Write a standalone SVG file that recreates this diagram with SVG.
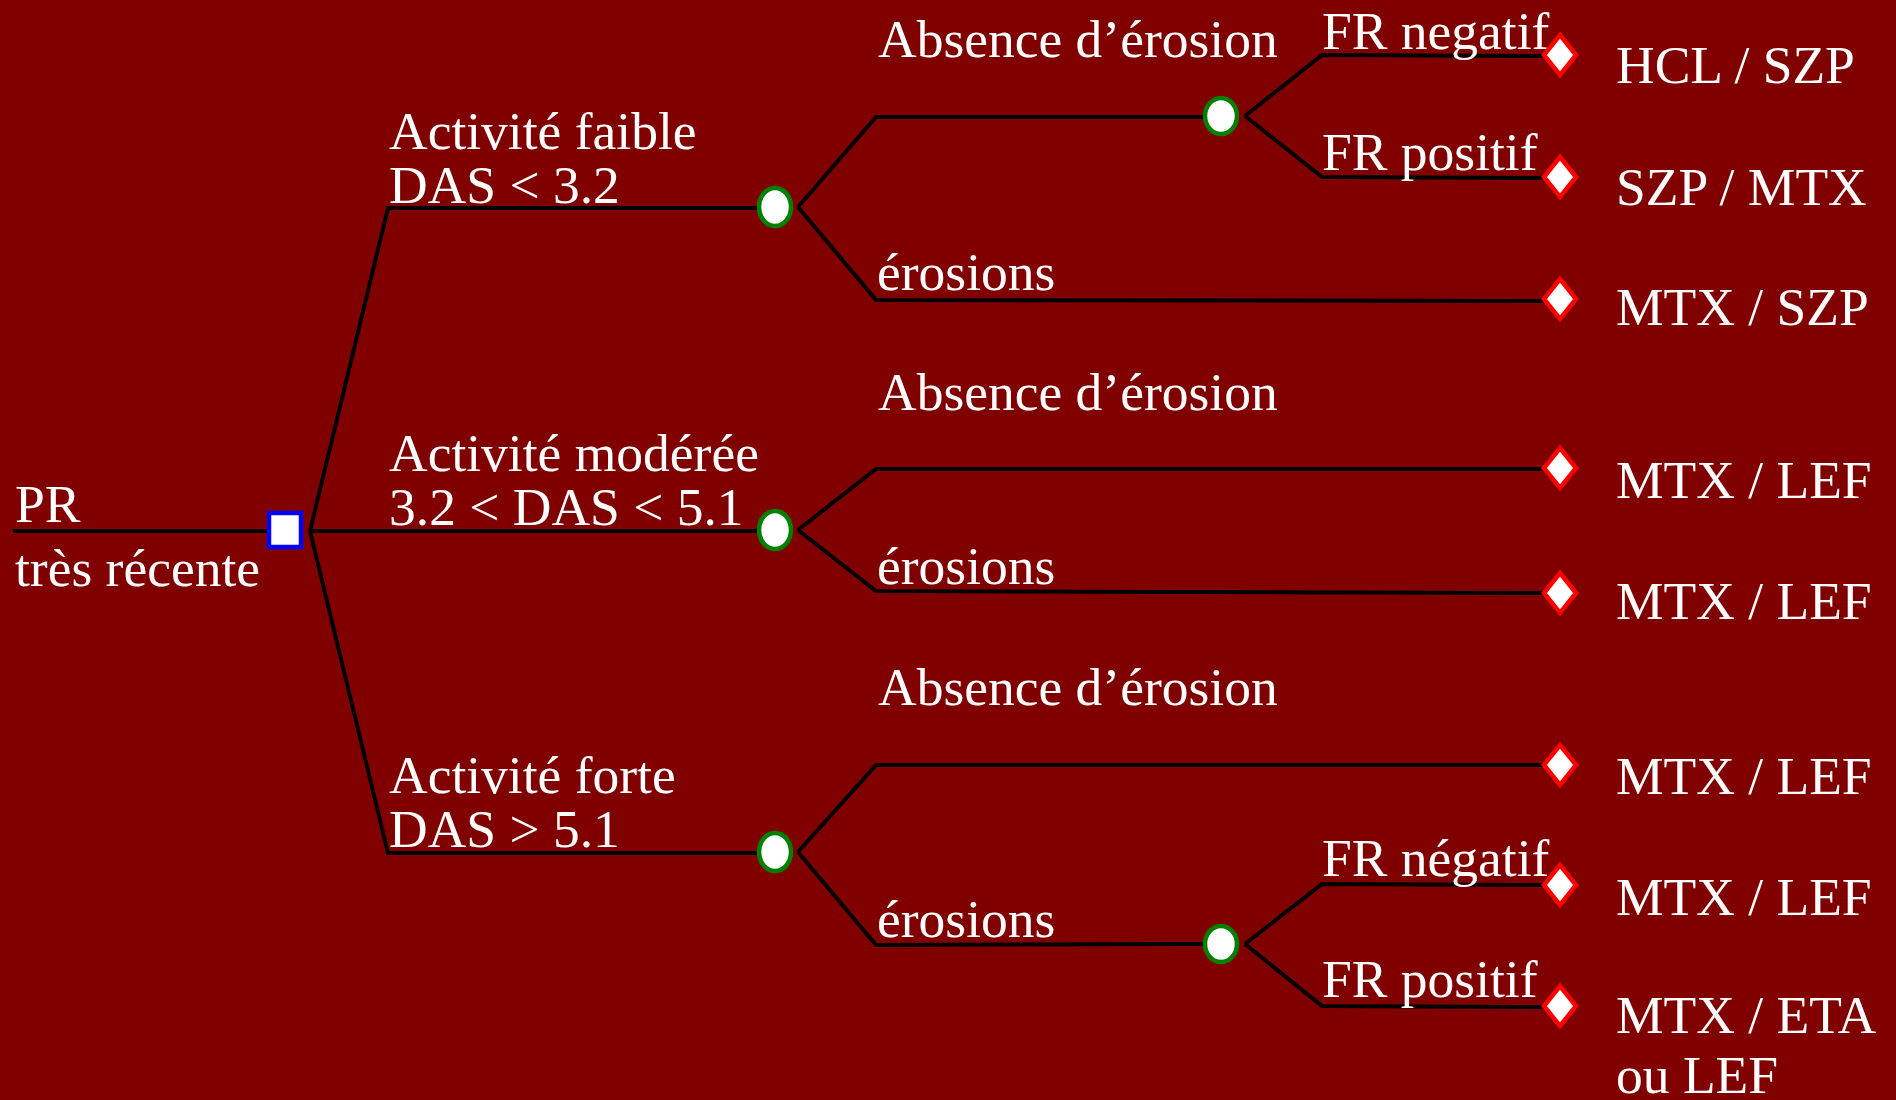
<svg xmlns="http://www.w3.org/2000/svg" width="1896" height="1100" viewBox="0 0 1896 1100">
<style>
text{font-family:"Liberation Serif","Times New Roman",serif;font-size:53.5px;fill:#ffffff}
.ln{fill:none;stroke:#000000;stroke-width:4;stroke-linejoin:miter}
.dec{fill:#ffffff;stroke:#0000ff;stroke-width:4.5}
.chance{fill:#ffffff;stroke:#008000;stroke-width:4.5}
.term{fill:#ffffff;stroke:#ff0000;stroke-width:4.5}
</style>
<defs>
<polygon id="dia" points="0,-20 16,0 0,20 -16,0"/>
</defs>
<rect x="0" y="0" width="1896" height="1100" fill="#800000"/>
<g id="connectors">
<path class="ln" d="M13,531 H269"/>
<path class="ln" d="M310,531 L388,208 H757"/>
<path class="ln" d="M310,531 H757"/>
<path class="ln" d="M310,531 L388,853 H757"/>
<path class="ln" d="M798,207 L876,117 H1203"/>
<path class="ln" d="M798,207 L876,300 L1543,301"/>
<path class="ln" d="M1245,116 L1322,55 L1543,56"/>
<path class="ln" d="M1245,116 L1322,177 L1543,178"/>
<path class="ln" d="M798,530 L876,469 H1543"/>
<path class="ln" d="M798,530 L876,591 L1543,593"/>
<path class="ln" d="M798,852 L876,765 H1543"/>
<path class="ln" d="M798,852 L876,945 L1203,944"/>
<path class="ln" d="M1245,944 L1322,884 L1543,885"/>
<path class="ln" d="M1245,944 L1322,1006 L1543,1007"/>
</g>
<g id="edge-labels">
<text x="15" y="522">PR</text>
<text x="15" y="586">très récente</text>
<text x="389" y="149">Activité faible</text>
<text x="389" y="203">DAS &lt; 3.2</text>
<text x="389" y="471">Activité modérée</text>
<text x="389" y="525">3.2 &lt; DAS &lt; 5.1</text>
<text x="389" y="793">Activité forte</text>
<text x="389" y="847">DAS &gt; 5.1</text>
<text x="878" y="57">Absence d’érosion</text>
<text x="877" y="290">érosions</text>
<text x="878" y="410">Absence d’érosion</text>
<text x="877" y="584">érosions</text>
<text x="878" y="705">Absence d’érosion</text>
<text x="877" y="937">érosions</text>
<text x="1322" y="49">FR negatif</text>
<text x="1322" y="170">FR positif</text>
<text x="1322" y="876">FR négatif</text>
<text x="1322" y="997">FR positif</text>
</g>
<g id="root"><rect class="dec" x="269" y="513" width="32" height="34"/></g>
<g id="c1"><ellipse class="chance" cx="775" cy="207" rx="16" ry="19"/></g>
<g id="c2"><ellipse class="chance" cx="775" cy="530" rx="16" ry="19"/></g>
<g id="c3"><ellipse class="chance" cx="775" cy="852" rx="16" ry="19"/></g>
<g id="c4"><ellipse class="chance" cx="1221" cy="116" rx="16" ry="18"/></g>
<g id="c5"><ellipse class="chance" cx="1221" cy="944" rx="16" ry="18"/></g>
<g id="t1"><use href="#dia" class="term" x="1560" y="55"/><text x="1616" y="83">HCL / SZP</text></g>
<g id="t2"><use href="#dia" class="term" x="1560" y="177"/><text x="1616" y="205">SZP / MTX</text></g>
<g id="t3"><use href="#dia" class="term" x="1560" y="299"/><text x="1616" y="325">MTX / SZP</text></g>
<g id="t4"><use href="#dia" class="term" x="1560" y="468"/><text x="1616" y="498">MTX / LEF</text></g>
<g id="t5"><use href="#dia" class="term" x="1560" y="593"/><text x="1616" y="619">MTX / LEF</text></g>
<g id="t6"><use href="#dia" class="term" x="1560" y="765"/><text x="1616" y="794">MTX / LEF</text></g>
<g id="t7"><use href="#dia" class="term" x="1560" y="885"/><text x="1616" y="915">MTX / LEF</text></g>
<g id="t8"><use href="#dia" class="term" x="1560" y="1006"/><text x="1616" y="1033">MTX / ETA</text><text x="1616" y="1093">ou LEF</text></g>
</svg>
